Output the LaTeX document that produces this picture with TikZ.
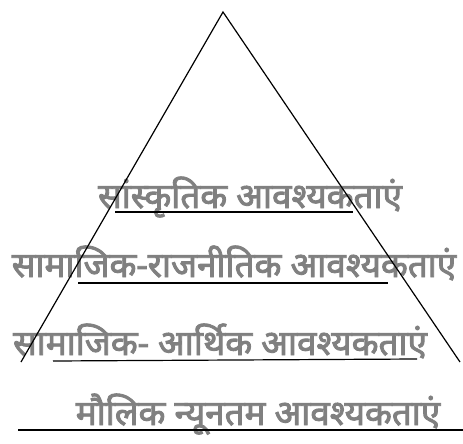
\documentclass[tikz,border=0pt]{standalone}
\usepackage{fontspec}
\newfontfamily\devfont[Script=Devanagari, FakeBold=2.5]{Noto Sans}
\definecolor{textgrey}{RGB}{128,128,128}
\begin{document}
\begin{tikzpicture}[x=1pt, y=-1pt, line width=1.2pt,
  level/.style={font=\devfont\fontsize{35}{40}\selectfont, text=textgrey, inner sep=0pt, anchor=base}]

\useasboundingbox (0,0) rectangle (463,444);

% Textos
\node[level] (T1) at (250,208) {सांस्कृतिक आवश्यकताएं};
\node[level] (T2) at (234,277) {सामाजिक-राजनीतिक आवश्यकताएं};
\node[level] (T3) at (220,355) {सामाजिक- आर्थिक आवश्यकताएं};
\node[level] (T4) at (258,425) {मौलिक न्यूनतम आवश्यकताएं};

% Piramide
\coordinate (A) at (223,12);
\coordinate (L) at (21,362);
\coordinate (R) at (460,362);
\draw (L) -- (A) -- (R);

% Lineas
\draw (115,212) -- (353,212);
\draw (78,283) -- (388,283);
\draw (53,361) -- (417,359);
\draw (18,430) -- (463,430);
\end{tikzpicture}
\end{document}
